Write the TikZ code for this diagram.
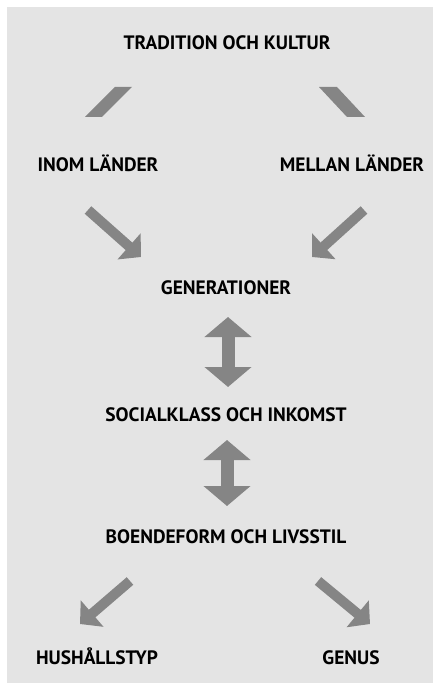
\documentclass[tikz,border=0pt]{standalone}
\usepackage{fontspec}
\setmainfont{PT Sans}
\usetikzlibrary{arrows.meta}
\definecolor{paper}{HTML}{E4E4E4}
\definecolor{ink}{HTML}{858585}
\tikzstyle{factor}=[font=\bfseries\fontsize{9.7}{11}\selectfont, inner sep=0, anchor=base]
\tikzstyle{phantom end}=[inner sep=0, minimum size=0]
\tikzstyle{flow}=[draw=ink, line width=5pt, -{Triangle[length=8pt, width=17pt]}]
\tikzstyle{both ways}=[draw=ink, line width=6.5pt,
  {Triangle[length=10pt, width=23pt]}-{Triangle[length=10pt, width=23pt]}]

\begin{document}
\begin{tikzpicture}[x=0.5pt, y=-0.5pt]
          \fill[white] (0, 0) rectangle (433, 683);
          \fill[paper] (7, 7) rectangle (433, 683);

          \node[factor] (tradition) at (227, 49.5) {TRADITION OCH KULTUR};
          \node[factor] (inom) at (98, 171.5) {INOM LÄNDER};
          \node[factor] (mellan) at (352, 171.5) {MELLAN LÄNDER};
          \node[factor] (generationer) at (226, 294.5) {GENERATIONER};
          \node[factor] (social) at (226, 421.5) {SOCIALKLASS OCH INKOMST};
          \node[factor] (boende) at (226, 543.5) {BOENDEFORM OCH LIVSSTIL};
          \node[factor] (hushall) at (97, 664.5) {HUSHÅLLSTYP};
          \node[factor] (genus) at (351, 664.5) {GENUS};

          \node[phantom end] (tl_top) at (123.5, 87) {};
          \node[phantom end] (tl_bot) at (93.5, 117) {};
          \node[phantom end] (tr_top) at (328, 87) {};
          \node[phantom end] (tr_bot) at (356, 117) {};
          \node[phantom end] (inom_out) at (88, 210) {};
          \node[phantom end] (mellan_out) at (364, 210) {};
          \node[phantom end] (gen_in_left) at (141, 257) {};
          \node[phantom end] (gen_in_right) at (312, 257) {};
          \node[phantom end] (gen_out) at (228, 317) {};
          \node[phantom end] (social_in) at (228, 387) {};
          \node[phantom end] (social_out) at (227, 440) {};
          \node[phantom end] (boende_in) at (227, 506) {};
          \node[phantom end] (boende_out_l) at (130, 581) {};
          \node[phantom end] (boende_out_r) at (318, 581) {};
          \node[phantom end] (hushall_in) at (80, 624) {};
          \node[phantom end] (genus_in) at (370, 624) {};

          % strokes under the title
          \fill[ink] ([xshift=-4.25pt]tl_top.center) -- ([xshift=4.25pt]tl_top.center)
            -- ([xshift=4.25pt]tl_bot.center) -- ([xshift=-4.25pt]tl_bot.center) -- cycle;
          \fill[ink] ([xshift=-4.5pt]tr_top.center) -- ([xshift=4.5pt]tr_top.center)
            -- ([xshift=4.5pt]tr_bot.center) -- ([xshift=-4.5pt]tr_bot.center) -- cycle;

          \draw[flow] (inom_out.center) -- (gen_in_left.center);
          \draw[flow] (mellan_out.center) -- (gen_in_right.center);
          \draw[both ways] (gen_out.center) -- (social_in.center);
          \draw[both ways] (social_out.center) -- (boende_in.center);
          \draw[flow] (boende_out_l.center) -- (hushall_in.center);
          \draw[flow] (boende_out_r.center) -- (genus_in.center);
        \end{tikzpicture}
\end{document}
